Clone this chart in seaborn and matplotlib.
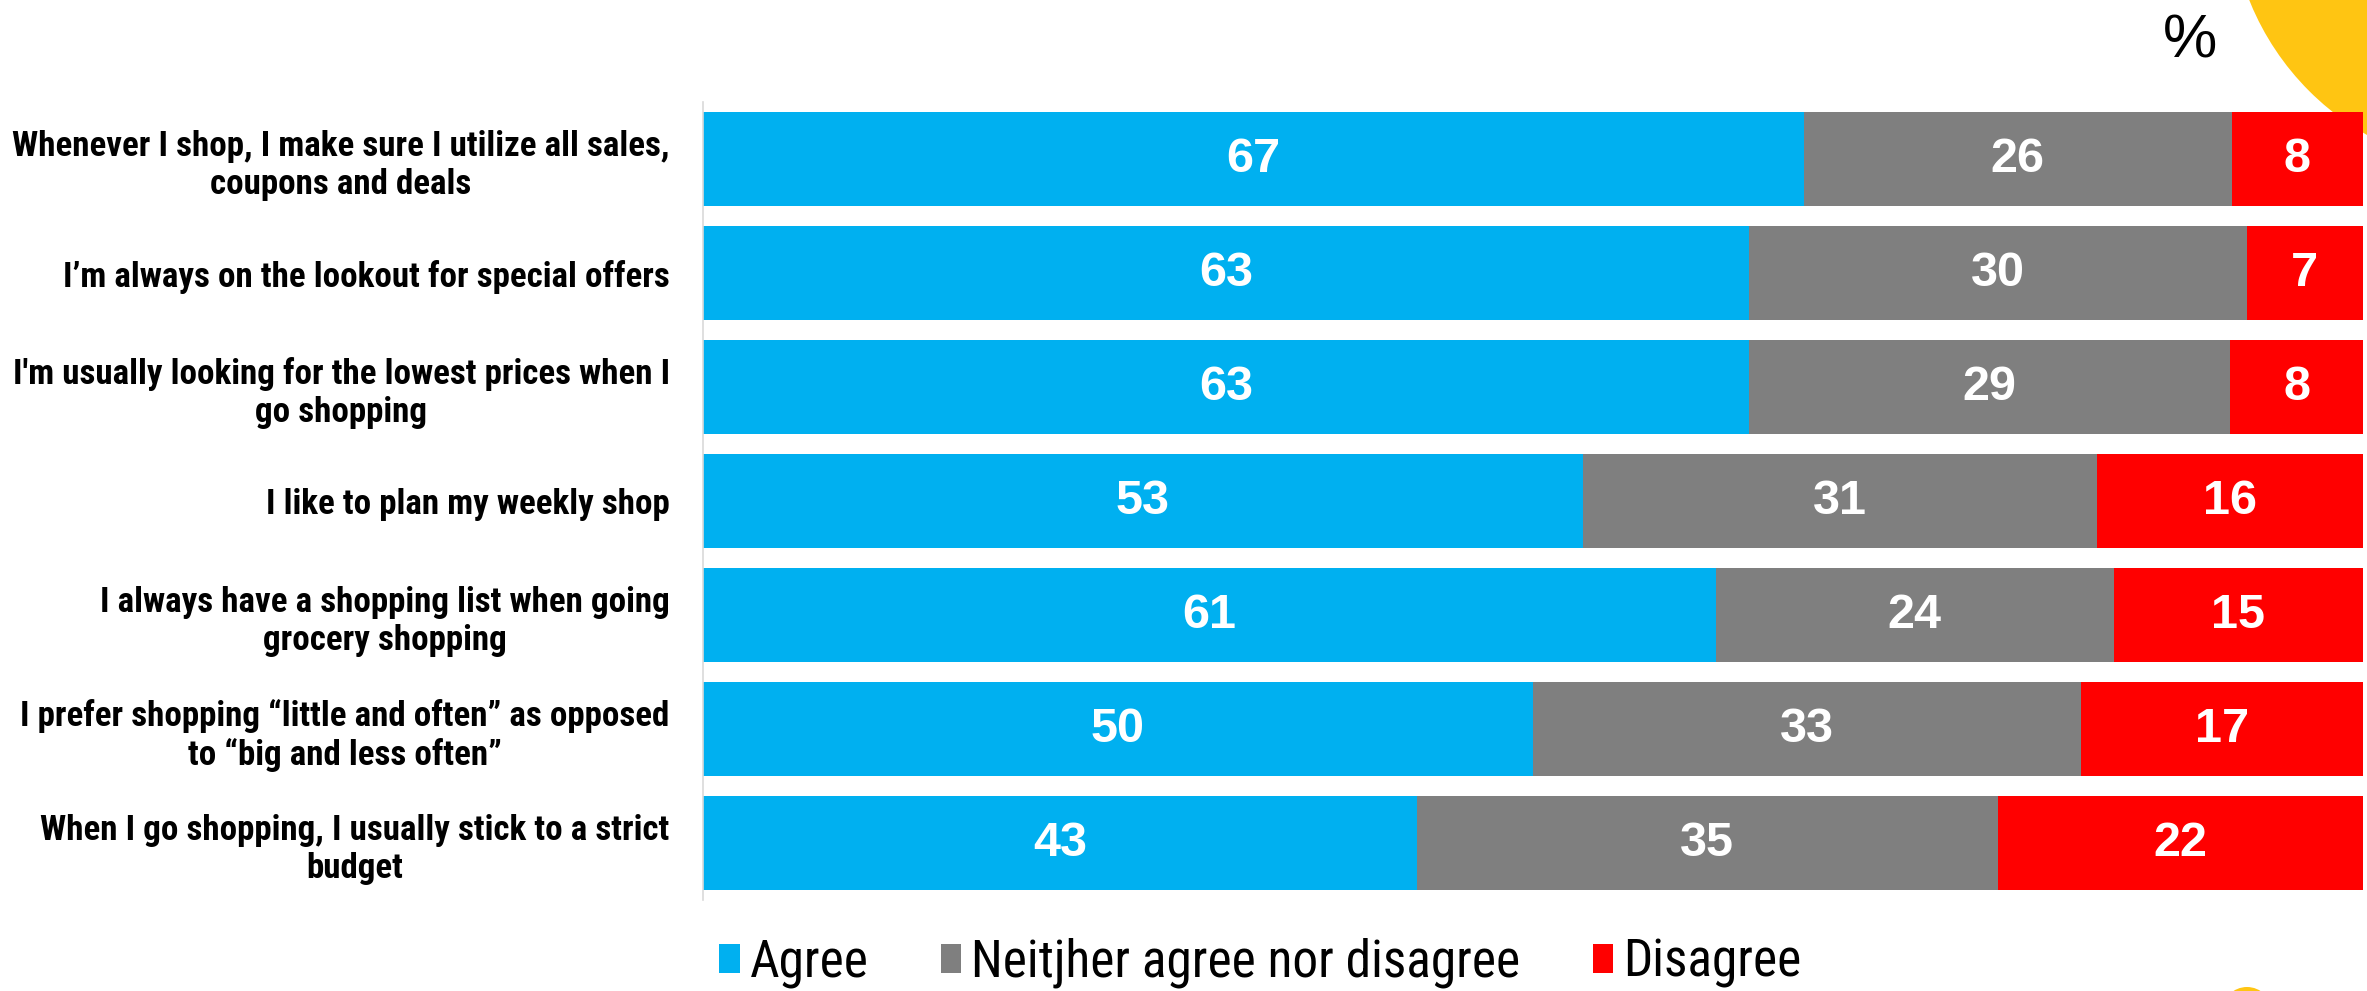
import numpy as np
import pandas as pd
import matplotlib
matplotlib.use("Agg")
import matplotlib.pyplot as plt
from matplotlib import font_manager
from matplotlib.patches import Patch, Circle
import seaborn as sns

# Survey statements and responses (%)
statements = [
    "Whenever I shop, I make sure I utilize all sales,\ncoupons and deals",
    "I\u2019m always on the lookout for special offers",
    "I'm usually looking for the lowest prices when I\ngo shopping",
    "I like to plan my weekly shop",
    "I always have a shopping list when going\ngrocery shopping",
    "I prefer shopping \u201clittle and often\u201d as opposed\nto \u201cbig and less often\u201d",
    "When I go shopping, I usually stick to a strict\nbudget",
]
agree = [67, 63, 63, 53, 61, 50, 43]
neither = [26, 30, 29, 31, 24, 33, 35]
disagree = [8, 7, 8, 16, 15, 17, 22]
series_names = ["Agree", "Neitjher agree nor disagree", "Disagree"]

C_AGREE = "#00B0F0"
C_NEITHER = "#7F7F7F"
C_DIS = "#FF0000"
C_YELLOW = "#FFC512"

sns.set_theme(style="white")
plt.rcParams["font.family"] = ["Liberation Sans", "DejaVu Sans"]
plt.rcParams["text.color"] = "black"

# pick a narrow face for the statement labels and legend
installed = {f.name for f in font_manager.fontManager.ttflist}
narrow = None
for cand in ["Liberation Sans Narrow", "Roboto Condensed", "DejaVu Sans Condensed",
             "Open Sans Condensed", "Noto Sans Condensed"]:
    if cand in installed:
        narrow = cand
        break
if narrow is None:
    NARROW = ["Liberation Sans", "DejaVu Sans"]
    LBL_SIZE, LEG_SIZE = 20, 30
else:
    NARROW = [narrow, "DejaVu Sans"]
    LBL_SIZE, LEG_SIZE = 25.2, 37

df = pd.DataFrame({"statement": statements, "agree": agree,
                   "neither": neither, "disagree": disagree})
total = df[["agree", "neither", "disagree"]].sum(axis=1)
df["s_agree"] = df["agree"] / total * 100
df["s_neither"] = df["neither"] / total * 100
df["s_dis"] = df["disagree"] / total * 100
df["end_agree"] = df["s_agree"]
df["end_neither"] = df["s_agree"] + df["s_neither"]
df["end_dis"] = df["end_neither"] + df["s_dis"]

W, H, DPI = 2367, 991, 100
fig = plt.figure(figsize=(W / DPI, H / DPI), dpi=DPI)
fig.patch.set_facecolor("white")

# decorative circles behind the chart
fig.patches.append(Circle((25.0, 10.91), 2.7, transform=fig.dpi_scale_trans,
                          facecolor=C_YELLOW, edgecolor="none", zorder=-5))
fig.patches.append(Circle((22.47, -0.21), 0.25, transform=fig.dpi_scale_trans,
                          facecolor=C_YELLOW, edgecolor="none", zorder=-5))

ax = fig.add_axes([703 / W, 1 - 900 / H, (2363 - 703) / W, (900 - 102) / H])
ax.patch.set_alpha(0)

bw = 0.833
for col, color in [("end_dis", C_DIS), ("end_neither", C_NEITHER), ("end_agree", C_AGREE)]:
    sns.barplot(data=df, x=col, y="statement", orient="h", color=color,
                saturation=1, width=bw, linewidth=0, ax=ax)

# value labels centred in each segment
for i, row in df.iterrows():
    starts = [0, row["end_agree"], row["end_neither"]]
    widths = [row["s_agree"], row["s_neither"], row["s_dis"]]
    vals = [row["agree"], row["neither"], row["disagree"]]
    for s, w, v in zip(starts, widths, vals):
        ax.text(s + w / 2, i, f"{v}", ha="center", va="center", color="white",
                fontsize=35, fontweight="bold", family=["Liberation Sans", "DejaVu Sans"])

ax.set_xlim(0, 100)
ax.set_ylim(6.5, -0.5)
ax.set_xlabel("")
ax.set_ylabel("")
ax.set_xticks([])
ax.set_yticks(range(len(statements)))
ax.set_yticklabels(statements, fontsize=LBL_SIZE, fontweight="bold", family=NARROW,
                   multialignment="center", linespacing=1.2, color="black")
ax.tick_params(axis="y", length=0, pad=24)
for side in ["top", "right", "bottom"]:
    ax.spines[side].set_visible(False)
ax.spines["left"].set_color("#D9D9D9")
ax.spines["left"].set_linewidth(1.2)

handles = [Patch(facecolor=c, edgecolor="none") for c in (C_AGREE, C_NEITHER, C_DIS)]
fig.legend(handles, series_names, loc="center left",
           bbox_to_anchor=(719 / W, 1 - 963 / H), bbox_transform=fig.transFigure,
           ncol=3, frameon=False, borderpad=0, borderaxespad=0,
           handlelength=0.4, handleheight=0.5,
           handletextpad=0.2, columnspacing=1.4,
           prop={"family": NARROW, "size": LEG_SIZE}, labelcolor="black")

fig.text(2190 / W, 1 - 42 / H, "%", ha="center", va="center", fontsize=44,
         family=["Liberation Sans", "DejaVu Sans"], color="black")

fig.savefig("out.png", dpi=DPI, facecolor="white")
